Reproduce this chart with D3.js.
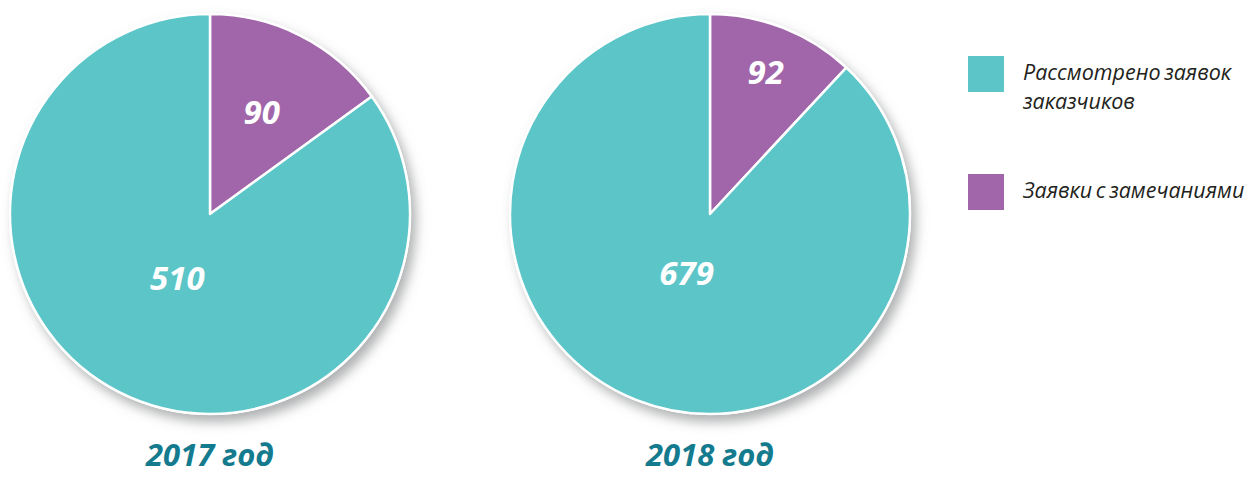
<!DOCTYPE html>
<html>
<head>
<meta charset="utf-8">
<script src="https://cdn.jsdelivr.net/npm/d3@7"></script>
<style>
  body { margin: 0; background: #fff; }
  svg { display: block; }
</style>
</head>
<body>
<script>
// data
const years = ['2017 год', '2018 год'];
const categories = ['Заявки с замечаниями', 'Рассмотрено заявок заказчиков'];
const remarks = [90, 92];
const reviewed = [510, 679];

const colors = d3.scaleOrdinal().domain(categories).range(['#a166aa', '#5bc5c8']);

const width = 1260, height = 478, radius = 200;
const svg = d3.select('body').append('svg')
  .attr('width', width)
  .attr('height', height);

const defs = svg.append('defs');
defs.append('filter').attr('id', 'shadow')
  .attr('x', '-20%').attr('y', '-20%').attr('width', '140%').attr('height', '140%')
  .append('feDropShadow')
  .attr('dx', 5).attr('dy', 7).attr('stdDeviation', 6)
  .attr('flood-color', '#6d6e71').attr('flood-opacity', 0.55);

const centers = d3.scalePoint().domain(years).range([210, 710]);

const pie = d3.pie().sort(null).value(d => d.value);
const arc = d3.arc().innerRadius(0).outerRadius(radius);
// label radius (as share of the pie radius) for each pie: [small slice, big slice]
const labelR = [[0.57, 0.36], [0.76, 0.32]];

years.forEach((yr, i) => {
  const data = [
    {cat: categories[0], value: remarks[i]},
    {cat: categories[1], value: reviewed[i]}
  ];
  const g = svg.append('g').attr('transform', `translate(${centers(yr)},214)`);
  g.append('circle').attr('r', radius + 1).attr('fill', '#fff')
    .attr('filter', 'url(#shadow)');
  const arcs = pie(data);
  g.selectAll('path').data(arcs).join('path')
    .attr('d', arc)
    .attr('fill', d => colors(d.data.cat))
    .attr('stroke', '#fff').attr('stroke-width', 2.5)
    .attr('stroke-linejoin', 'round');
  g.selectAll('text.val').data(arcs).join('text')
    .attr('class', 'val')
    .attr('transform', (d, j) => {
      const r = radius * labelR[i][j];
      return `translate(${d3.arc().innerRadius(r).outerRadius(r).centroid(d)})`;
    })
    .attr('text-anchor', 'middle')
    .attr('dy', '0.36em')
    .style('font-family', '"Open Sans", sans-serif')
    .style('font-weight', 700).style('font-style', 'italic')
    .style('font-size', '33px').style('fill', '#fff')
    .text(d => d.data.value);
  svg.append('text')
    .attr('x', centers(yr)).attr('y', 466)
    .attr('text-anchor', 'middle')
    .style('font-family', '"Open Sans", sans-serif')
    .style('font-weight', 700).style('font-style', 'italic')
    .style('font-size', '31px').style('fill', '#147b8f')
    .text(yr);
});

// legend
const legendItems = [
  {cat: categories[1], lines: ['Рассмотрено заявок', 'заказчиков'], y: 56},
  {cat: categories[0], lines: ['Заявки с замечаниями'], y: 174}
];
const legend = svg.append('g');
legendItems.forEach(it => {
  legend.append('rect')
    .attr('x', 968).attr('y', it.y).attr('width', 36).attr('height', 36)
    .attr('fill', colors(it.cat));
  const t = legend.append('text')
    .attr('x', 1023).attr('y', it.y + 24)
    .style('font-family', '"Open Sans", sans-serif')
    .style('font-style', 'italic').style('font-size', '21.5px')
    .style('word-spacing', '-2px')
    .style('fill', '#231f20');
  it.lines.forEach((l, k) => {
    t.append('tspan').attr('x', 1023).attr('dy', k ? 29 : 0).text(l);
  });
});
</script>
</body>
</html>
